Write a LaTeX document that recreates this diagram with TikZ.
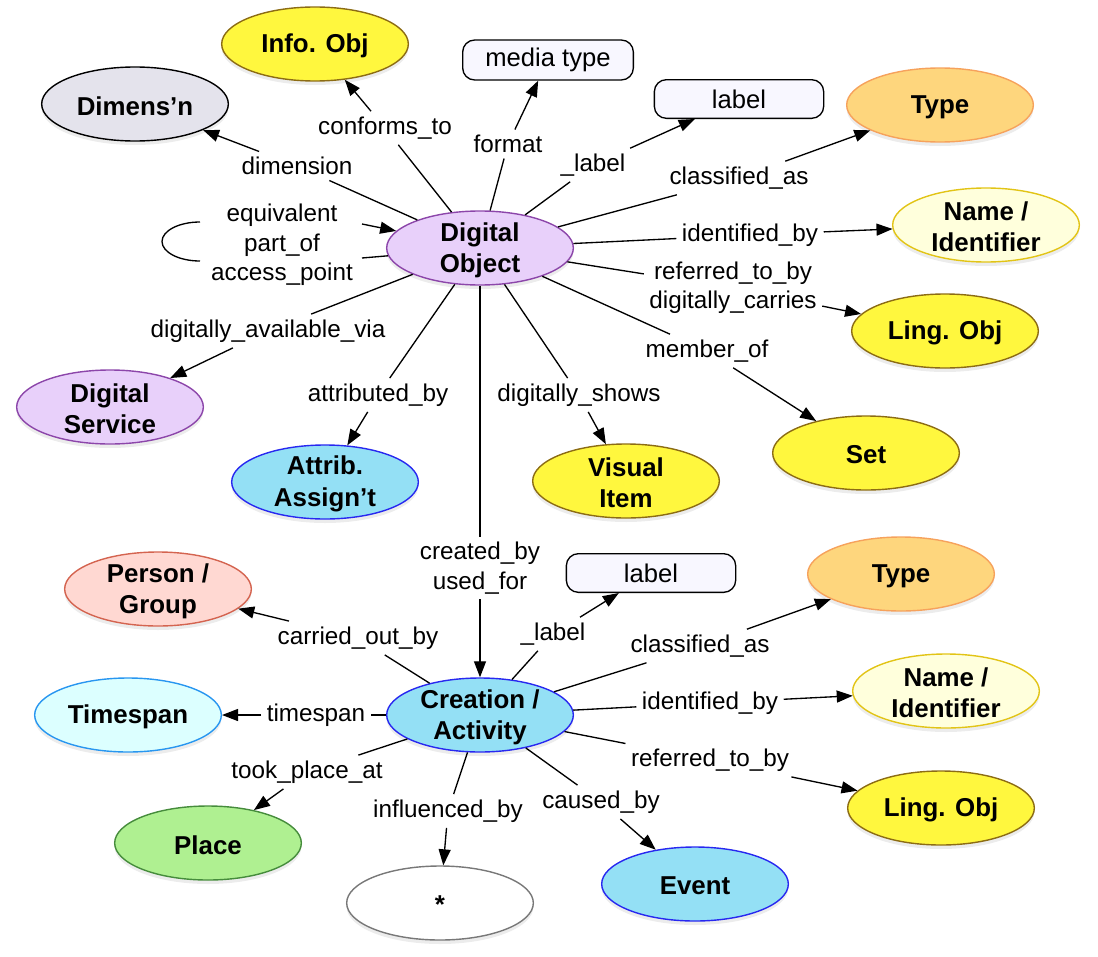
\documentclass[tikz,border=0pt]{standalone}
\usepackage{fontspec}
\setmainfont{Liberation Sans}
\usetikzlibrary{shapes.geometric,arrows.meta,shadows}
\definecolor{yfill}{RGB}{255,247,62}
\definecolor{ydraw}{RGB}{140,108,20}
\definecolor{gfill}{RGB}{228,227,236}
\definecolor{tfill}{RGB}{254,214,125}
\definecolor{tdraw}{RGB}{246,162,92}
\definecolor{nfill}{RGB}{255,255,220}
\definecolor{ndraw}{RGB}{226,196,22}
\definecolor{pfill}{RGB}{232,208,250}
\definecolor{pdraw}{RGB}{140,70,170}
\definecolor{bfill}{RGB}{148,224,245}
\definecolor{bdraw}{RGB}{40,40,240}
\definecolor{rfill}{RGB}{255,216,210}
\definecolor{rdraw}{RGB}{212,100,80}
\definecolor{sfill}{RGB}{220,255,255}
\definecolor{sdraw}{RGB}{40,150,240}
\definecolor{plfill}{RGB}{175,240,145}
\definecolor{pldraw}{RGB}{70,140,60}
\definecolor{wdraw}{RGB}{120,120,120}
\definecolor{boxfill}{RGB}{248,247,255}
\newcommand{\efont}{\fontsize{18.2}{22}\selectfont}
\newcommand{\bxfont}{\fontsize{19.2}{23}\selectfont}
\newcommand{\nfont}{\bfseries\fontsize{19.4}{23.5}\selectfont}
\begin{document}
\begin{tikzpicture}[x=0.75pt,y=-0.75pt,
  obj/.style={ellipse, draw, line width=1.05pt, minimum width=140pt, minimum height=55.5pt, inner sep=0pt,
    drop shadow={shadow xshift=0pt,shadow yshift=-3pt,opacity=0.15}},
  yel/.style={obj, fill=yfill, draw=ydraw},
  gry/.style={obj, fill=gfill, draw=black},
  typ/.style={obj, fill=tfill, draw=tdraw},
  nam/.style={obj, fill=nfill, draw=ndraw},
  pur/.style={obj, fill=pfill, draw=pdraw},
  blu/.style={obj, fill=bfill, draw=bdraw},
  pers/.style={obj, fill=rfill, draw=rdraw},
  tsp/.style={obj, fill=sfill, draw=sdraw},
  plc/.style={obj, fill=plfill, draw=pldraw},
  wht/.style={obj, fill=white, draw=wdraw},
  nt/.style={font=\nfont, align=center, inner sep=0pt, yshift=-1.5pt},
  lbox/.style={draw, line width=1pt, rounded corners=9pt, fill=boxfill, font=\bxfont,
    minimum width=127pt, minimum height=29pt, inner sep=0pt},
  rel/.style={font=\efont, align=center, inner sep=4pt},
  ln/.style={line width=1pt},
  arr/.style={line width=1pt, -{Triangle[length=12pt,width=9pt]}}]
\useasboundingbox (0,0) rectangle (1098,956);

% nodes
\node[yel,label={[nt]center:Info. Obj}] (info) at (315,44) {};
\node[gry,label={[nt]center:Dimens’n}] (dim) at (135,104) {};
\node[lbox,minimum width=128pt,minimum height=30pt] (mt) at (548,60) {media type};
\node[lbox] (lab1) at (739,99) {label};
\node[typ,label={[nt]center:Type}] (type1) at (940,105) {};
\node[pur,label={[nt]center:{Digital\\Object}}] (do) at (480,248) {};
\node[nam,label={[nt]center:{Name /\\Identifier}}] (name1) at (986,225) {};
\node[yel,label={[nt]center:Ling. Obj}] (ling1) at (945,331) {};
\node[yel,label={[nt]center:Set}] (set) at (866,453) {};
\node[yel,label={[nt]center:{Visual\\Item}}] (vis) at (626,481) {};
\node[blu,label={[nt]center:{Attrib.\\Assign’t}}] (attr) at (325,482) {};
\node[pur,label={[nt]center:{Digital\\Service}}] (dserv) at (110,407) {};
\node[lbox] (lab2) at (651,573) {label};
\node[typ,label={[nt]center:Type}] (type2) at (901,574) {};
\node[pers,label={[nt]center:{Person /\\Group}}] (pers) at (158,589) {};
\node[blu,label={[nt]center:{Creation /\\Activity}}] (ca) at (480,715) {};
\node[tsp,label={[nt]center:Timespan}] (ts) at (128,715) {};
\node[nam,label={[nt]center:{Name /\\Identifier}}] (name2) at (946,691) {};
\node[yel,label={[nt]center:Ling. Obj}] (ling2) at (941,808) {};
\node[plc,label={[nt]center:Place}] (place) at (208,843) {};
\node[blu,label={[nt]center:Event}] (event) at (695,884) {};
\node[wht,label={[nt]center:*}] (star) at (440,903) {};

% relation labels
\node[rel] (r1) at (385,128) {conforms\_to};
\node[rel] (r2) at (508,144) {format};
\node[rel] (r3) at (593,165) {\_label};
\node[rel] (r4) at (739,178) {classified\_as};
\node[rel] (r5) at (750,235) {identified\_by};
\node[rel] (r6) at (733,288) {referred\_to\_by\\digitally\_carries};
\node[rel] (r7) at (707,351) {member\_of};
\node[rel] (r8) at (579,395) {digitally\_shows};
\node[rel] (r9) at (378,395) {attributed\_by};
\node[rel] (r10) at (268,331) {digitally\_available\_via};
\node[rel] (r11) at (297,166) {dimension};
\node[rel] (r12) at (282,245) {equivalent\\part\_of\\access\_point};
\node[rel] (r13) at (480,568) {created\_by\\used\_for};
\node[rel] (r14) at (553,634) {\_label};
\node[rel] (r15) at (700,646) {classified\_as};
\node[rel] (r16) at (710,703) {identified\_by};
\node[rel] (r17) at (710,760) {referred\_to\_by};
\node[rel] (r18) at (601,802) {caused\_by};
\node[rel] (r19) at (448,811) {influenced\_by};
\node[rel] (r20) at (307,772) {took\_place\_at};
\node[rel] (r21) at (316,715) {timespan};
\node[rel] (r22) at (358,638) {carried\_out\_by};

% self loop points
\coordinate (lpa) at (362,258);
\coordinate (lpb) at (362,224);
\coordinate (lpc) at (200,222);

% connectors from Digital Object
\draw[ln] (do) -- (r1);  \draw[arr] (r1) -- (info);
\draw[ln] (do) -- (r2);  \draw[arr] (r2) -- (mt);
\draw[ln] (do) -- (r3);  \draw[arr] (r3) -- (lab1);
\draw[ln] (do) -- (r4);  \draw[arr] (r4) -- (type1);
\draw[ln] (do) -- (r5);  \draw[arr] (r5) -- (name1);
\draw[ln] (do) -- (r6);  \draw[arr] (r6) -- (ling1);
\draw[ln] (do) -- (r7);  \draw[arr] (r7) -- (set);
\draw[ln] (do) -- (r8);  \draw[arr] (r8) -- (vis);
\draw[ln] (do) -- (r9);  \draw[arr] (r9) -- (attr);
\draw[ln] (do) -- (r10); \draw[arr] (r10) -- (dserv);
\draw[ln] (do) -- (r11); \draw[arr] (r11) -- (dim);
\draw[ln] (do) -- (lpa);
\draw[ln] (lpc) arc[start angle=270, end angle=90, x radius=38, y radius=19.5];
\draw[arr] (lpb) -- (do);
\draw[ln] (do) -- (r13); \draw[arr] (r13) -- (ca);

% connectors from Creation / Activity
\draw[ln] (ca) -- (r14); \draw[arr] (r14) -- (lab2);
\draw[ln] (ca) -- (r15); \draw[arr] (r15) -- (type2);
\draw[ln] (ca) -- (r16); \draw[arr] (r16) -- (name2);
\draw[ln] (ca) -- (r17); \draw[arr] (r17) -- (ling2);
\draw[ln] (ca) -- (r18); \draw[arr] (r18) -- (event);
\draw[ln] (ca) -- (r19); \draw[arr] (r19) -- (star);
\draw[ln] (ca) -- (r20); \draw[arr] (r20) -- (place);
\draw[ln] (ca) -- (r21); \draw[arr] (r21) -- (ts);
\draw[ln] (ca) -- (r22); \draw[arr] (r22) -- (pers);
\end{tikzpicture}
\end{document}
